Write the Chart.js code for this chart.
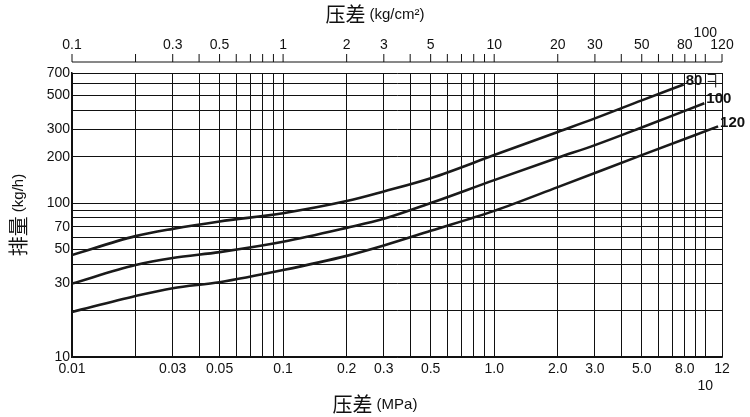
<!DOCTYPE html>
<html><head><meta charset="utf-8">
<script src="https://cdn.jsdelivr.net/npm/chart.js@4"></script>
<style>body{margin:0;background:#fff}#w{width:750px;height:417px}</style>
</head><body><div id="w"><canvas id="c"></canvas></div>
<script>
const pressureMPa80 = [0.01,0.02,0.03,0.05,0.1,0.2,0.3,0.5,1.0,2,3,5,7.9];
const flow80 = [46,61,68,76,86,103,119,145,205,290,355,465,590];
const pressureMPa100 = [0.01,0.02,0.03,0.05,0.1,0.2,0.3,0.5,1.0,2,3,5,9.9];
const flow100 = [30,39.6,44,48,56,69,79,100,141,197,238,310,445];
const pressureMPa120 = [0.01,0.02,0.03,0.05,0.1,0.2,0.3,0.5,1.0,2,5,11.5];
const flow120 = [19.6,24.9,28,30.6,36.7,45.4,53,66,89,127,205,315];
const seriesNames = ['80','100','120'];
const xTickLabels = {0.01:'0.01',0.03:'0.03',0.05:'0.05',0.1:'0.1',0.2:'0.2',0.3:'0.3',0.5:'0.5',1:'1.0',2:'2.0',3:'3.0',5:'5.0',8:'8.0',10:['','10'],12:'12'};
const yTickLabels = {10:'10',30:'30',50:'50',70:'70',100:'100',200:'200',300:'300',500:'500',700:'700'};
const topTickLabels = {0.1:'0.1',0.3:'0.3',0.5:'0.5',1:'1',2:'2',3:'3',5:'5',10:'10',20:'20',30:'30',50:'50',80:'80',100:'100',120:'120'};

function logTicks(min,max){const t=[];for(let d=min;d<max*1.0001;d*=10){for(let m=1;m<10;m++){const v=+(m*d).toPrecision(3);if(v>=min&&v<=max)t.push(v);}}return t;}
const xGrid = logTicks(0.01,10).concat([12]);
const yGrid = logTicks(10,700);
const topTicks = logTicks(0.1,100).concat([120]);

const mk=(xs,ys)=>xs.map((x,i)=>({x,y:ys[i]}));
const ds=[mk(pressureMPa80,flow80),mk(pressureMPa100,flow100),mk(pressureMPa120,flow120)].map((d,i)=>({label:seriesNames[i],data:d,borderColor:'#1a1a1a',borderWidth:2.6,pointRadius:0,cubicInterpolationMode:'monotone',fill:false}));

const F='"Liberation Sans", Arial, sans-serif';
const extra={id:'extra',afterDraw(ch){
 const c=ch.ctx,x=ch.scales.x,y=ch.scales.y;
 c.save();c.fillStyle='#111';c.strokeStyle='#111';c.lineWidth=1;
 const ay=62;
 c.beginPath();c.moveTo(x.getPixelForValue(0.01),ay);c.lineTo(x.getPixelForValue(12),ay);c.stroke();
 c.font='14px '+F;c.textAlign='center';c.textBaseline='bottom';
 topTicks.forEach(v=>{const px=x.getPixelForValue(v/10);c.beginPath();c.moveTo(px,ay);c.lineTo(px,ay-8);c.stroke();
  const l=topTickLabels[v];if(l){let yy=ay-10;if(v===100)yy=ay-22;c.fillText(l,px,yy);}});
 const drawT=(cx,cy,rot,cjk,unit)=>{c.save();c.translate(cx,cy);c.rotate(rot);c.textBaseline='middle';c.textAlign='left';
  c.font='20px "Noto Sans CJK SC"';const w1=c.measureText(cjk).width;c.font='15px '+F;const w2=c.measureText(unit).width;
  const s=-(w1+w2+4)/2;c.font='20px "Noto Sans CJK SC"';c.fillText(cjk,s,0);c.font='15px '+F;c.fillText(unit,s+w1+4,1);c.restore();};
 drawT(375,14,0,'压差','(kg/cm²)');
 drawT(375,404,0,'压差','(MPa)');
 drawT(18,215,-Math.PI/2,'排量','(kg/h)');
 c.font='bold 15px '+F;c.textAlign='left';c.textBaseline='middle';
 ch.data.datasets.forEach((d,i)=>{const p=d.data[d.data.length-1];const px=x.getPixelForValue(p.x),py=y.getPixelForValue(p.y);
  c.fillText(d.label,px+2,py-4);});
 const p=ch.data.datasets[0].data.slice(-1)[0];const px=x.getPixelForValue(p.x)+24,py=y.getPixelForValue(p.y)-4;
 c.beginPath();c.moveTo(px,py-6);c.lineTo(px+8,py-6);c.lineTo(px+8,py+7);c.moveTo(px,py+1);c.lineTo(px+8,py+1);c.stroke();
 c.restore();}};

new Chart(document.getElementById('c'),{type:'line',data:{datasets:ds},plugins:[extra],
options:{responsive:true,maintainAspectRatio:false,animation:false,
 layout:{padding:{top:73,right:28,left:0,bottom:0}},
 plugins:{legend:{display:false},tooltip:{enabled:false}},
 scales:{
  x:{type:'logarithmic',min:0.01,max:12,afterBuildTicks:s=>{s.ticks=xGrid.map(v=>({value:v}));},
   afterFit:s=>{s.height=60;},
   grid:{color:'#111',lineWidth:1,tickLength:0},border:{color:'#111',width:1.5},
   ticks:{autoSkip:false,maxRotation:0,color:'#111',font:{family:F,size:14},padding:4,callback:v=>xTickLabels[v]||''}},
  y:{type:'logarithmic',min:10,max:700,afterBuildTicks:s=>{s.ticks=yGrid.map(v=>({value:v}));},
   afterFit:s=>{s.width=72;},
   grid:{color:'#111',lineWidth:1,tickLength:0},border:{color:'#111',width:1.5},
   ticks:{autoSkip:false,color:'#111',font:{family:F,size:14},padding:2,callback:v=>yTickLabels[v]||''}}
 }}});
</script></body></html>
